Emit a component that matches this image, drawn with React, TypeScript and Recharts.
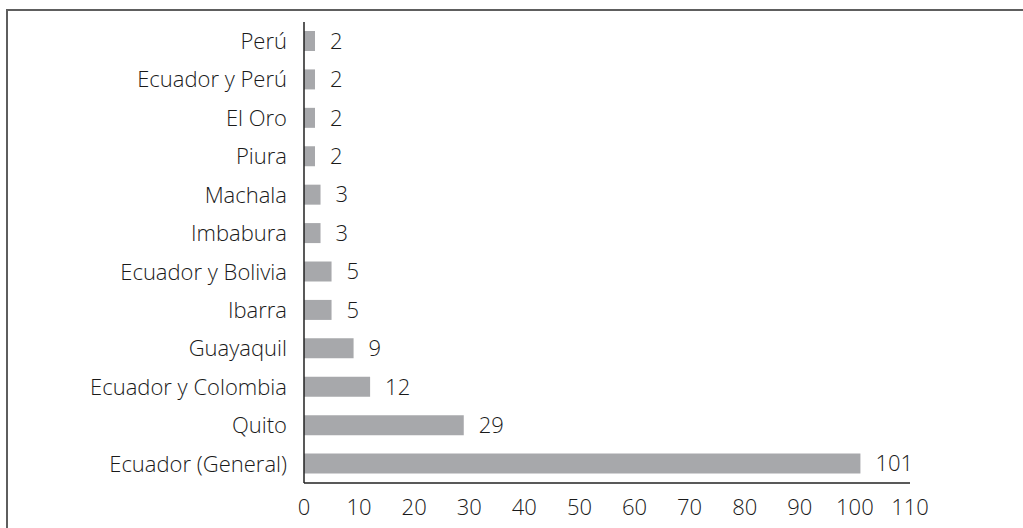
import React from 'react';
import { BarChart, Bar, XAxis, YAxis, LabelList } from 'recharts';

const places = [
  'Perú',
  'Ecuador y Perú',
  'El Oro',
  'Piura',
  'Machala',
  'Imbabura',
  'Ecuador y Bolivia',
  'Ibarra',
  'Guayaquil',
  'Ecuador y Colombia',
  'Quito',
  'Ecuador (General)',
];
const counts = [2, 2, 2, 2, 3, 3, 5, 5, 9, 12, 29, 101];
const xTicks = [0, 10, 20, 30, 40, 50, 60, 70, 80, 90, 100, 110];

const data = places.map((name, i) => ({ name, value: counts[i] }));

const FONT = '"Open Sans", sans-serif';
const TEXT = '#1a1a1a';
const BAR = '#a7a8ab';
const AXIS = '#222222';
const textStyle = { fill: TEXT, fontSize: 22, fontFamily: FONT, fontWeight: 300 };

export default function App() {
  return (
    <div style={{ position: 'absolute', left: 0, top: 0, width: 1023, height: 528, background: '#fff', overflow: 'hidden' }}>
      {/* frame round the figure, only top and left edges fall inside the crop */}
      <div
        style={{
          position: 'absolute',
          left: 6,
          top: 9,
          width: 1100,
          height: 600,
          borderLeft: '2px solid #5e5e5e',
          borderTop: '2px solid #5e5e5e',
        }}
      />
      <div style={{ position: 'absolute', left: 0, top: 0 }}>
        <BarChart
          width={1023}
          height={528}
          data={data}
          layout="vertical"
          margin={{ top: 22, right: 113, left: 0, bottom: 0 }}
          barCategoryGap={0}
        >
          <XAxis
            type="number"
            domain={[0, 110]}
            ticks={xTicks}
            interval={0}
            height={45}
            tickLine={false}
            tickMargin={10}
            axisLine={{ stroke: AXIS, strokeWidth: 1.5 }}
            tick={textStyle}
          />
          <YAxis
            type="category"
            dataKey="name"
            width={304}
            tickLine={false}
            tickMargin={11}
            interval={0}
            axisLine={{ stroke: AXIS, strokeWidth: 1.5 }}
            tick={textStyle}
          />
          <Bar dataKey="value" fill={BAR} barSize={20} isAnimationActive={false}>
            <LabelList dataKey="value" position="right" offset={15} style={textStyle} />
          </Bar>
        </BarChart>
      </div>
    </div>
  );
}
